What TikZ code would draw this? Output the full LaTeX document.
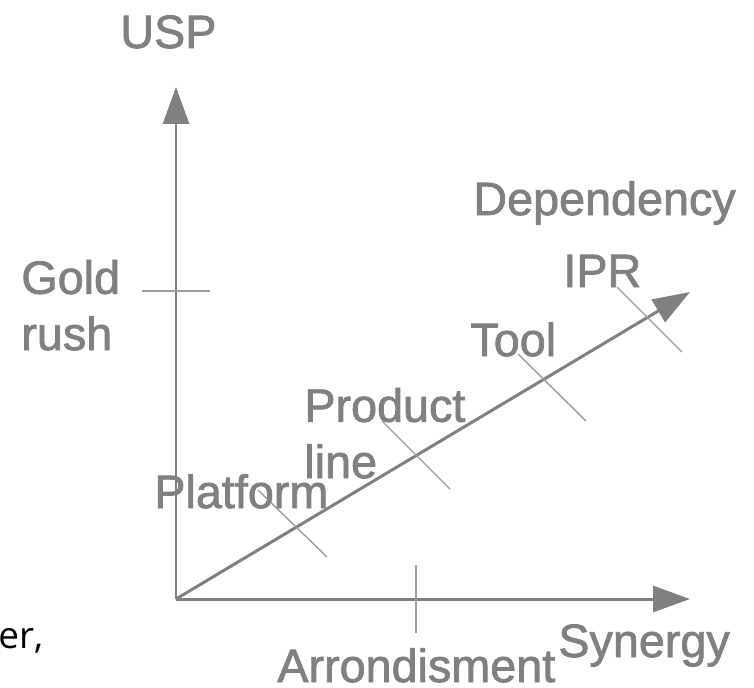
\documentclass[tikz,border=0pt]{standalone}
\usepackage{fontspec}
\setmainfont{Liberation Sans}
\newfontfamily\lblfont{Liberation Sans}[FakeBold=1.6]
\newfontfamily\bodyfont{Open Sans}
\usetikzlibrary{arrows.meta}
\definecolor{axisgray}{HTML}{808080}
\definecolor{tickgray}{HTML}{9C9C9C}

\begin{document}
\begin{tikzpicture}[x=0.02cm, y=-0.02cm,
    axis/.style={draw=axisgray, line width=1.7pt, -{Triangle[length=0.74cm, width=0.52cm]}},
    tickline/.style={draw=tickgray, line width=0.8pt},
    lbl/.style={anchor=base west, inner sep=0pt, text=axisgray,
      font=\lblfont\fontsize{26.6}{32}\selectfont, align=left}]
    \useasboundingbox (0,0) rectangle (754,687);

    % Axes
    \coordinate (origin) at (176,599);
    \coordinate (usptip) at (176,87);
    \coordinate (syntip) at (690,599);
    \coordinate (deptip) at (690,292);
    \draw[axis] (origin) -- (usptip);
    \draw[axis] (origin) -- (syntip);
    \draw[axis] (origin) -- (deptip);

    % Ticks
    \draw[tickline] (142,291) -- (210,291);
    \draw[tickline] (416,565) -- (416,633);
    \draw[tickline] (258,490) -- (327,557);
    \draw[tickline] (382,421) -- (450,489);
    \draw[tickline] (518,354) -- (586,421);
    \draw[tickline] (617,287) -- (682,352);

    % Labels (base of a two-line label is its last line)
    \node[lbl] (usp) at (120,48) {USP};
    \node[lbl] (goldrush) at (21,350) {Gold\\rush};
    \node[lbl] (dependency) at (473,215) {Dependency};
    \node[lbl] (ipr) at (563,287) {IPR};
    \node[lbl] (tool) at (470,356) {Tool};
    \node[lbl] (productline) at (304,478) {Product\\line};
    \node[lbl] (platform) at (154,508) {Platform};
    \node[lbl] (arrondisment) at (277,682) {Arrondisment};
    \node[lbl] (synergy) at (558,657) {Synergy};

    % Cut-off text at the left edge
    \node[anchor=base west, inner sep=0pt, font=\bodyfont\fontsize{21}{25}\selectfont]
      (fragment) at (-2,648) {er,};
\end{tikzpicture}
\end{document}
